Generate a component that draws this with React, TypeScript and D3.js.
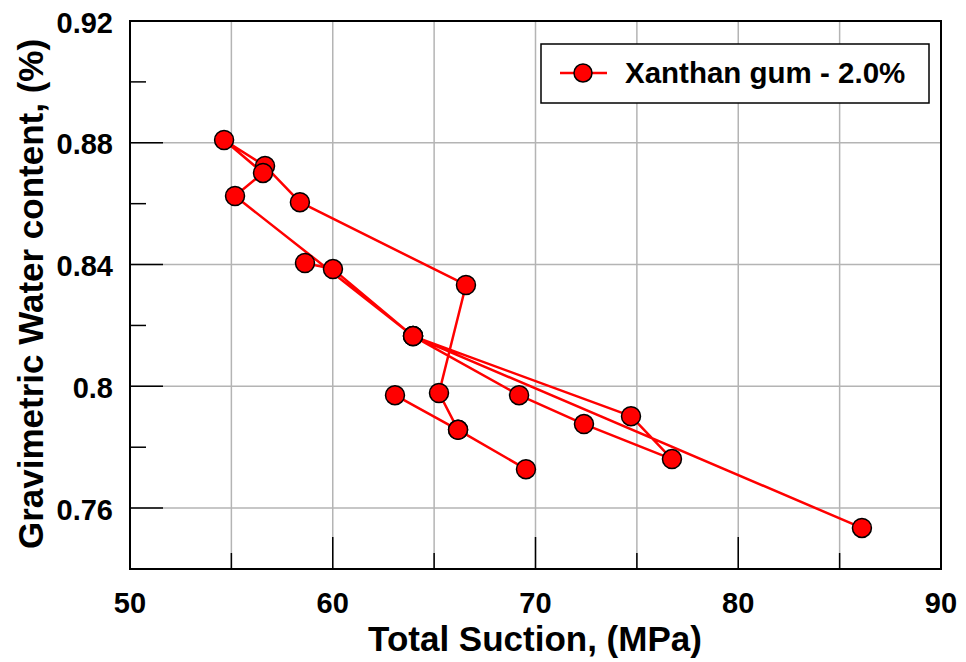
import React from "react";
import * as d3 from "d3";

// Data in drawing (polyline) order; some points are revisited by the path
const suction = [63.07, 66.18, 69.53, 66.18, 65.24, 66.57, 58.38, 56.66, 54.64, 56.56, 55.18, 63.96, 69.19, 72.39, 76.73, 74.71, 63.96, 86.1, 63.96, 60.01, 58.63];
const waterContent = [0.7971, 0.7857, 0.7728, 0.7857, 0.7978, 0.8333, 0.8605, 0.8724, 0.8809, 0.8701, 0.8625, 0.8165, 0.7971, 0.7876, 0.7761, 0.7902, 0.8165, 0.7535, 0.8165, 0.8385, 0.8405];

const xTicks = [50, 60, 70, 80, 90];
const xMinorTicks = [55, 65, 75, 85];
const xGrid = [55, 60, 65, 70, 75, 80, 85];
const yTicks = [0.76, 0.8, 0.84, 0.88, 0.92];
const yTickLabels = ["0.76", "0.8", "0.84", "0.88", "0.92"];
const yMinorTicks = [0.78, 0.82, 0.86, 0.9];
const yGrid = [0.76, 0.8, 0.84, 0.88];

const seriesName = "Xanthan gum - 2.0%";
const xTitle = "Total Suction, (MPa)";
const yTitle = "Gravimetric Water content, (%)";

const W = 966;
const H = 662;
const left = 130;
const right = 941;
const top = 21;
const bottom = 569;
const FONT = "'Liberation Sans', Arial, Helvetica, sans-serif";

export default function App() {
  const x = d3.scaleLinear().domain([50, 90]).range([left, right]);
  const y = d3.scaleLinear().domain([0.74, 0.92]).range([bottom, top]);
  const pts = suction.map((s, i) => [s, waterContent[i]] as [number, number]);
  const line = d3
    .line<[number, number]>()
    .x((d) => x(d[0]))
    .y((d) => y(d[1]));

  return (
    <svg
      width={W}
      height={H}
      style={{ position: "absolute", left: 0, top: 0, background: "#fff" }}
    >
      <rect x={0} y={0} width={W} height={H} fill="#fff" />
      {/* grid */}
      {xGrid.map((v) => (
        <line key={"gx" + v} x1={x(v)} x2={x(v)} y1={top} y2={bottom} stroke="#b4b4b4" strokeWidth={1.5} />
      ))}
      {yGrid.map((v) => (
        <line key={"gy" + v} x1={left} x2={right} y1={y(v)} y2={y(v)} stroke="#b4b4b4" strokeWidth={1.5} />
      ))}
      {/* ticks */}
      {xTicks.map((v) => (
        <line key={"tx" + v} x1={x(v)} x2={x(v)} y1={bottom} y2={bottom - 32} stroke="#000" strokeWidth={1.5} />
      ))}
      {xMinorTicks.map((v) => (
        <line key={"mx" + v} x1={x(v)} x2={x(v)} y1={bottom} y2={bottom - 16} stroke="#000" strokeWidth={1.5} />
      ))}
      {yTicks.map((v) => (
        <line key={"ty" + v} x1={left} x2={left + 33} y1={y(v)} y2={y(v)} stroke="#000" strokeWidth={1.5} />
      ))}
      {yMinorTicks.map((v) => (
        <line key={"my" + v} x1={left} x2={left + 16} y1={y(v)} y2={y(v)} stroke="#000" strokeWidth={1.5} />
      ))}
      {/* frame */}
      <rect x={left} y={top} width={right - left} height={bottom - top} fill="none" stroke="#000" strokeWidth={2} />
      {/* tick labels */}
      {xTicks.map((v) => (
        <text key={"lx" + v} x={x(v)} y={613} textAnchor="middle" fontFamily={FONT} fontWeight="bold" fontSize={29} fill="#000">
          {v}
        </text>
      ))}
      {yTicks.map((v, i) => (
        <text key={"ly" + v} x={113} y={y(v)} dy="0.4em" textAnchor="end" fontFamily={FONT} fontWeight="bold" fontSize={29} fill="#000">
          {yTickLabels[i]}
        </text>
      ))}
      {/* axis titles */}
      <text x={535} y={651} textAnchor="middle" fontFamily={FONT} fontWeight="bold" fontSize={35} fill="#000">
        {xTitle}
      </text>
      <text
        transform={`translate(43, ${294}) rotate(-90)`}
        textAnchor="middle"
        fontFamily={FONT}
        fontWeight="bold"
        fontSize={35}
        fill="#000"
      >
        {yTitle}
      </text>
      {/* series */}
      <path d={line(pts) || ""} fill="none" stroke="#ff0000" strokeWidth={2.5} strokeLinejoin="round" />
      {pts.map((d, i) => (
        <circle key={"p" + i} cx={x(d[0])} cy={y(d[1])} r={9.5} fill="#ff0000" stroke="#000" strokeWidth={1.5} />
      ))}
      {/* legend */}
      <rect x={541} y={44} width={388} height={59} fill="#fff" stroke="#000" strokeWidth={1.5} />
      <line x1={560} x2={607} y1={73} y2={73} stroke="#ff0000" strokeWidth={2.5} />
      <circle cx={583} cy={73} r={9} fill="#ff0000" stroke="#000" strokeWidth={1.5} />
      <text x={625} y={83} fontFamily={FONT} fontWeight="bold" fontSize={29.5} fill="#000">
        {seriesName}
      </text>
    </svg>
  );
}
